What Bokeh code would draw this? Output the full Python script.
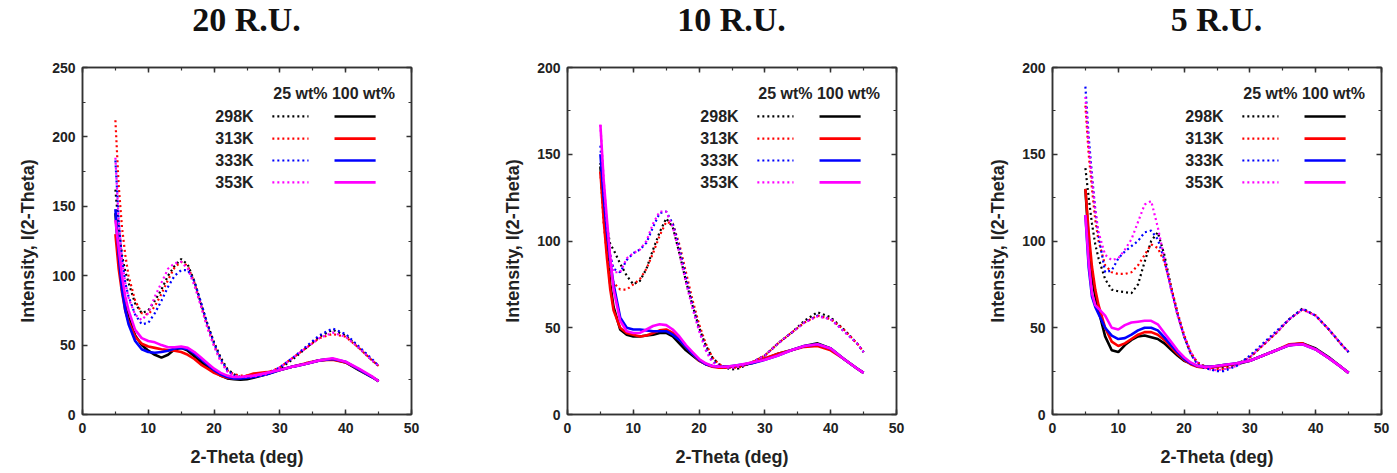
from bokeh.plotting import figure
from bokeh.layouts import row, column
from bokeh.models import Range1d, SingleIntervalTicker, LinearAxis, Div
from bokeh.core.properties import value
from bokeh.embed import file_html
from bokeh.resources import INLINE

# ---------------- data ----------------
two_theta = [5, 5.5, 6, 6.5, 7, 8, 9, 10, 11, 12, 13, 14, 15, 16, 17, 18, 19, 20,
             21, 22, 23, 24, 25, 26, 28, 30, 32, 34, 36, 38, 40, 42, 44, 45]

temps = ["298K", "313K", "333K", "353K"]
colors = ["#000000", "#ff0000", "#0000ff", "#ff00ff"]
panel_titles = ["20 R.U.", "10 R.U.", "5 R.U."]
y_max = [250, 200, 200]

# 20 R.U. , 25 wt% (dotted)
ru20_25_298 = [162, 135, 115, 103, 95, 80, 73, 75, 82, 90, 100, 107, 112, 108, 96, 80, 65, 52, 41, 33, 29, 27, 27, 27, 29, 33, 40, 48, 56, 61, 57, 48, 39, 35]
ru20_25_313 = [212, 165, 135, 115, 100, 82, 73, 72, 78, 87, 97, 106, 110, 107, 95, 79, 63, 50, 39, 32, 29, 28, 28, 28.5, 30, 34, 41, 48, 55, 58, 56, 48, 39, 35]
ru20_25_333 = [183, 140, 112, 95, 85, 72, 65, 66, 73, 82, 92, 100, 104, 104, 96, 81, 65, 51, 40, 32, 28, 27, 27, 27.5, 29, 34, 41, 49, 57, 62, 58, 49, 40, 35]
ru20_25_353 = [185, 140, 112, 95, 84, 72, 68, 73, 85, 95, 105, 109, 110, 105, 93, 78, 62, 49, 38, 31, 28, 27, 27, 27.5, 29, 34, 41, 48, 55, 59, 56, 48, 39, 35]
# 20 R.U. , 100 wt% (solid)
ru20_100_298 = [145, 115, 95, 80, 70, 57, 50, 46, 43, 41, 43, 47, 48, 46, 42, 38, 34, 31, 28, 26, 25.5, 25, 25.5, 26.5, 29, 32, 34.5, 36.5, 39, 40, 37.5, 32, 27, 24]
ru20_100_313 = [130, 105, 88, 75, 67, 56, 51, 49, 48, 47, 46.5, 46, 45, 43, 40, 36, 33, 30, 28, 26.5, 26, 26.5, 28, 29.5, 30.5, 32, 34.5, 37, 39, 39.5, 37.5, 32.5, 27, 24]
ru20_100_333 = [148, 115, 90, 75, 65, 53, 47, 45, 44.5, 45, 46, 47.5, 48, 47, 44, 40, 36, 32, 29, 27, 26, 26, 26.5, 27, 29, 32, 34.5, 36.5, 39, 40, 38, 32.5, 27, 24]
ru20_100_353 = [140, 120, 100, 85, 75, 61, 55, 53, 52, 50, 48.5, 48.5, 49, 48, 45, 41, 37, 33, 30, 28, 27, 27, 27.5, 28, 30, 32, 34.5, 36.5, 39, 40.5, 38, 33, 27.5, 24]

# 10 R.U. , 25 wt% (dotted)
ru10_25_298 = [145, 125, 108, 98, 95, 87, 80, 75, 77, 84, 95, 105, 113, 108, 93, 77, 63, 50, 40, 33, 29, 27, 26, 26.5, 30, 34, 41, 47, 54, 59, 56, 49, 41, 36]
ru10_25_313 = [140, 110, 92, 82, 76, 72, 72, 75, 78, 84, 93, 103, 111, 110, 98, 82, 66, 52, 41, 33, 29, 27.5, 27, 27, 30, 34, 41, 47, 53, 57, 55, 49, 41, 36]
ru10_25_333 = [155, 125, 105, 92, 84, 82, 89, 93, 95, 99, 108, 116, 117, 110, 96, 79, 63, 49, 38, 31, 28, 27, 27, 27.5, 30, 34, 41, 47, 53, 57, 55, 48, 41, 36]
ru10_25_353 = [167, 135, 110, 92, 82, 82, 90, 93, 95, 100, 110, 117, 117, 108, 93, 76, 61, 48, 37, 30, 28, 27, 27, 27.5, 30, 34, 41, 47, 53, 56.5, 55, 48, 41, 36]
# 10 R.U. , 100 wt% (solid)
ru10_100_298 = [143, 118, 95, 75, 62, 49, 46, 45, 45, 45.5, 46, 47, 47, 45, 41, 37, 34, 31, 29, 28, 27.5, 27.5, 27.5, 28, 29.5, 32, 35, 37, 39.5, 41, 38, 32, 26.5, 24]
ru10_100_313 = [140, 112, 90, 72, 60, 50, 47, 46, 45, 45.5, 47, 48.5, 49, 47, 43, 39, 35, 31, 29, 27.5, 27, 27, 27.5, 28, 30, 32.5, 35, 37, 39, 39.5, 37, 32, 26.5, 24]
ru10_100_333 = [150, 125, 105, 88, 75, 56, 50, 49, 49, 48.5, 48, 48, 48, 46, 43, 39, 35, 31.5, 29, 28, 27.5, 27.5, 28, 28.5, 29.5, 31.5, 34, 37, 39.5, 40.5, 38, 32, 26.5, 24]
ru10_100_353 = [167, 135, 112, 90, 72, 54, 48, 47, 47, 49, 51, 52, 51.5, 49, 45, 40, 36, 32, 29.5, 28, 27.5, 27.5, 28, 28.5, 30, 31.5, 34, 37, 39.5, 40.5, 38, 32, 26.5, 24]

# 5 R.U. , 25 wt% (dotted)
ru5_25_298 = [142, 125, 110, 98, 90, 78, 72, 71, 70.5, 70, 75, 88, 100, 105, 92, 74, 58, 45, 35, 30, 28, 27, 27, 27, 29, 33, 40, 47, 55, 61, 57, 49, 40, 36]
ru5_25_313 = [178, 150, 130, 112, 100, 86, 82, 81, 81, 82, 86, 92, 98, 96, 88, 74, 59, 46, 36, 30, 28, 27, 26, 26, 28.5, 33, 40, 47, 55, 60.5, 57, 49, 40, 36]
ru5_25_333 = [189, 160, 138, 118, 103, 82, 83, 90, 94, 97, 100, 105, 106, 101, 89, 73, 58, 45, 35, 29, 27, 26, 25, 25, 28, 34, 41, 48, 55, 61, 57, 49, 40, 36]
ru5_25_353 = [183, 155, 135, 118, 105, 92, 89, 90, 95, 101, 111, 121, 123, 108, 90, 72, 57, 45, 36, 30, 27, 26, 25.5, 26, 28, 33, 40, 47, 55, 60.5, 57, 49, 40, 36]
# 5 R.U. , 100 wt% (solid)
ru5_100_298 = [130, 100, 80, 68, 60, 45, 37, 36, 40, 43, 45, 45.5, 44.5, 43.5, 41, 37.5, 34, 31, 29.5, 28, 27.5, 27.5, 28, 28.5, 29, 31, 34, 37, 40, 41, 38, 33, 27, 24]
ru5_100_313 = [130, 105, 85, 72, 63, 50, 42, 39.5, 41, 43.5, 46, 47.5, 47.5, 46, 43, 39, 35, 31.5, 29, 27.5, 27, 27, 27.5, 28, 29.5, 31, 34, 37, 40.5, 41, 37.5, 32.5, 27, 24]
ru5_100_333 = [115, 85, 68, 62, 58, 50, 45.5, 43.5, 44, 46, 48.5, 50, 50, 48.5, 44.5, 40, 36, 32, 29.5, 28, 27.5, 27.5, 28, 28.5, 29.5, 31, 34, 37, 40, 40.5, 37.5, 32.5, 27, 24]
ru5_100_353 = [115, 88, 70, 63, 61, 57, 50, 49, 51.5, 53, 53.5, 54, 54, 52, 47, 42, 37, 33, 30, 28, 27.5, 27.5, 28, 28.5, 29.5, 31, 34, 37, 40, 40.5, 37.5, 32.5, 27, 24]

panels_dotted = [
    [ru20_25_298, ru20_25_313, ru20_25_333, ru20_25_353],
    [ru10_25_298, ru10_25_313, ru10_25_333, ru10_25_353],
    [ru5_25_298, ru5_25_313, ru5_25_333, ru5_25_353],
]
panels_solid = [
    [ru20_100_298, ru20_100_313, ru20_100_333, ru20_100_353],
    [ru10_100_298, ru10_100_313, ru10_100_333, ru10_100_353],
    [ru5_100_298, ru5_100_313, ru5_100_333, ru5_100_353],
]

# ---------------- layout / style ----------------
FRAME_W = 329
FRAME_H = 347
BORDER_L = 82
TITLE_H = 40
FIG_H = 473 - TITLE_H
BORDER_T = 67 - TITLE_H
BORDER_B = FIG_H - BORDER_T - FRAME_H
fig_widths = [485, 485, 427]
AX = "#333333"
SANS = "Liberation Sans"
DOT = "2 3"

# legend layout as fractions of the frame
leg_head_fx, leg_head_fy = 0.765, 0.925
leg_rows_fy = [0.859, 0.795, 0.732, 0.669]
leg_label_fx = 0.52
leg_dot_fx = (0.577, 0.687)
leg_solid_fx = (0.766, 0.891)


def style_axis(ax, show_labels):
    ax.axis_line_color = AX
    ax.axis_line_width = 1.5
    ax.major_tick_line_color = AX
    ax.minor_tick_line_color = AX
    ax.major_tick_line_width = 1.5
    ax.minor_tick_line_width = 1.2
    ax.major_tick_in = 5
    ax.major_tick_out = 0
    ax.minor_tick_in = 3
    ax.minor_tick_out = 0
    ax.major_label_text_font = SANS
    ax.major_label_text_font_style = "bold"
    if show_labels:
        ax.major_label_text_font_size = "14px"
        ax.major_label_text_color = "#222222"
    else:
        ax.major_label_text_font_size = "0px"
        ax.major_label_text_color = None
        ax.major_label_standoff = 0
    ax.axis_label_text_font = SANS
    ax.axis_label_text_font_style = "bold"
    ax.axis_label_text_font_size = "18px"
    ax.axis_label_text_color = "#222222"


titles = []
figs = []
for i in range(3):
    ymax = y_max[i]
    w = fig_widths[i]
    shift = 2 * (BORDER_L + FRAME_W / 2) - w  # centre the title over the frame
    titles.append(Div(
        text=panel_titles[i], width=w, height=TITLE_H,
        styles={"font-family": "'Liberation Serif', serif", "font-weight": "bold",
                "font-size": "34px", "line-height": f"{TITLE_H}px",
                "text-align": "center", "color": "#111111",
                "padding-left": f"{max(shift, 0)}px", "box-sizing": "border-box",
                "width": f"{w}px", "margin": "0"}))

    p = figure(width=w, height=FIG_H, output_backend="svg", toolbar_location=None,
               x_range=Range1d(0, 50), y_range=Range1d(0, ymax),
               x_axis_label="2-Theta (deg)", y_axis_label="Intensity, I(2-Theta)",
               min_border_left=BORDER_L, min_border_right=w - BORDER_L - FRAME_W,
               min_border_top=BORDER_T, min_border_bottom=BORDER_B)
    p.grid.visible = False
    p.outline_line_color = AX
    p.outline_line_width = 1.5
    p.background_fill_color = "white"
    p.border_fill_color = "white"

    p.xaxis.ticker = SingleIntervalTicker(interval=10, num_minor_ticks=2)
    p.yaxis.ticker = SingleIntervalTicker(interval=50, num_minor_ticks=2)
    style_axis(p.xaxis[0], True)
    style_axis(p.yaxis[0], True)
    p.xaxis.major_label_standoff = 8
    p.yaxis.major_label_standoff = 7
    p.xaxis.axis_label_standoff = 11
    p.yaxis.axis_label_standoff = 11

    ax_r = LinearAxis(ticker=SingleIntervalTicker(interval=50, num_minor_ticks=2))
    ax_t = LinearAxis(ticker=SingleIntervalTicker(interval=10, num_minor_ticks=2))
    style_axis(ax_r, False)
    style_axis(ax_t, False)
    p.add_layout(ax_r, "right")
    p.add_layout(ax_t, "above")

    for k in range(4):
        p.line(two_theta, panels_dotted[i][k], line_color=colors[k], line_width=2.2,
               line_dash=DOT)
        p.line(two_theta, panels_solid[i][k], line_color=colors[k], line_width=2.6)

    # legend drawn in data space from frame fractions
    fx = lambda f: 50 * f
    fy = lambda f, m=ymax: m * f
    p.text(x=[fx(leg_head_fx)], y=[fy(leg_head_fy)], text=["25 wt% 100 wt%"],
           text_font=value(SANS), text_font_style="bold", text_font_size="16px",
           text_align="center", text_baseline="middle", text_color="#222222")
    p.text(x=[fx(leg_label_fx)] * 4, y=[fy(v) for v in leg_rows_fy], text=temps,
           text_font=value(SANS), text_font_style="bold", text_font_size="16px",
           text_align="right", text_baseline="middle", text_color="#222222")
    for k in range(4):
        yy = fy(leg_rows_fy[k])
        p.segment(x0=[fx(leg_dot_fx[0])], y0=[yy], x1=[fx(leg_dot_fx[1])], y1=[yy],
                  line_color=colors[k], line_width=2.2, line_dash=DOT)
        p.segment(x0=[fx(leg_solid_fx[0])], y0=[yy], x1=[fx(leg_solid_fx[1])], y1=[yy],
                  line_color=colors[k], line_width=2.6)
    figs.append(p)

layout = column(row(*titles, spacing=0), row(*figs, spacing=0), spacing=0)
open("out.html", "w").write(file_html(layout, INLINE))
